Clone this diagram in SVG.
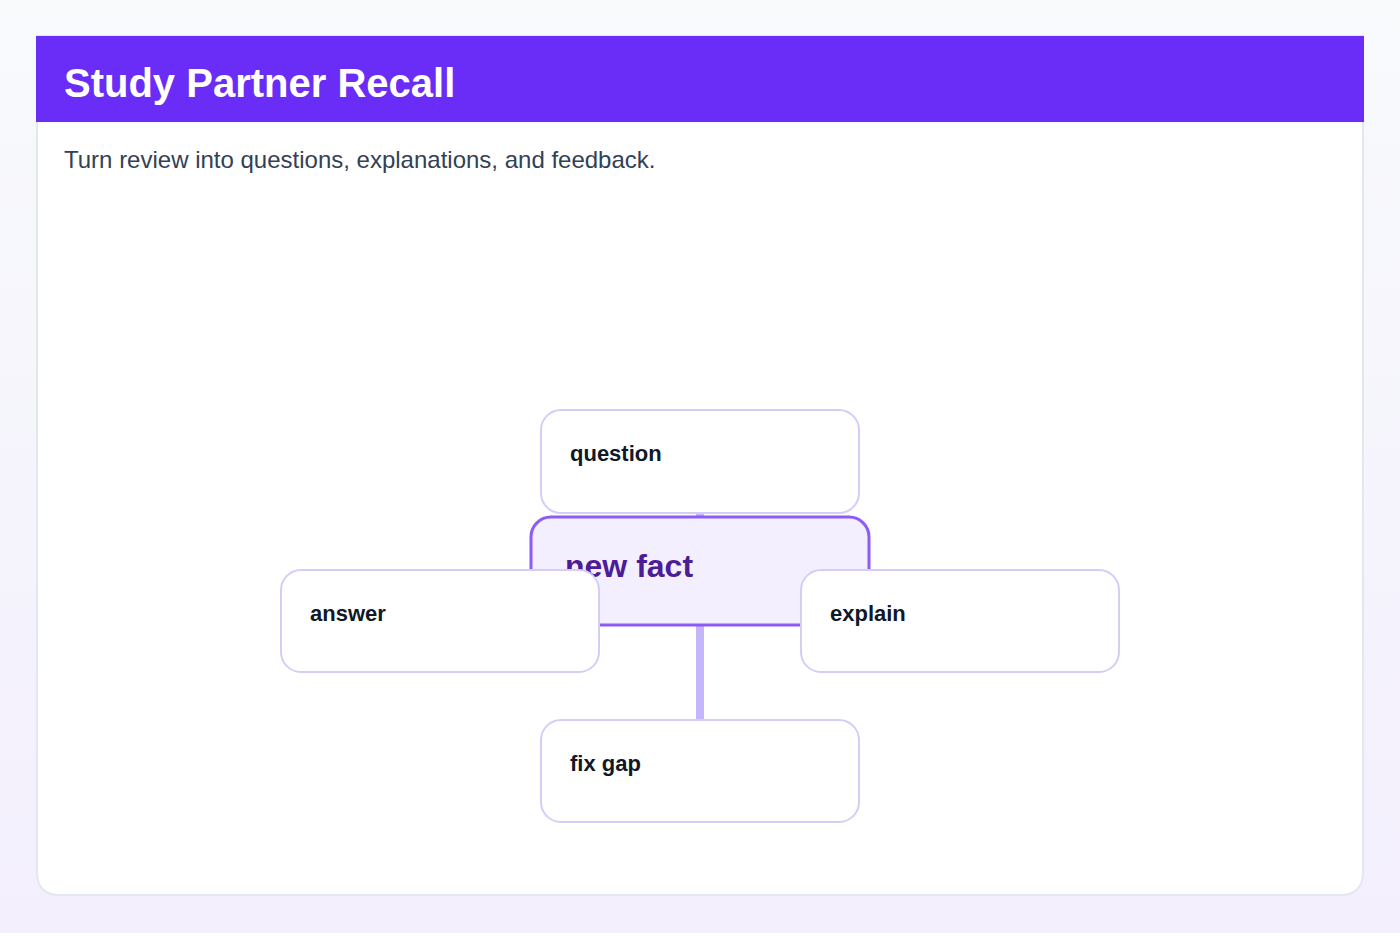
<svg xmlns="http://www.w3.org/2000/svg" width="1400" height="933" viewBox="0 0 1400 933">
<defs>
<linearGradient id="bg" x1="0" y1="0" x2="0" y2="1"><stop offset="0" stop-color="#f8fafc"/><stop offset="1" stop-color="#f3effd"/></linearGradient>
</defs>
<style>
.n{fill:#fff;stroke:#d6cdf6;stroke-width:2}
.t{font-family:"Liberation Sans",Arial,sans-serif;font-weight:bold;font-size:22px;fill:#111827}
</style>
<rect width="1400" height="933" fill="url(#bg)"/>
<path d="M37 36 H1363 V872 Q1363 895 1340 895 H60 Q37 895 37 872 Z" fill="#fff" stroke="#e2e8f0" stroke-width="2"/>
<rect x="36" y="36" width="1328" height="86" fill="#6a2cf7"/>
<text x="64" y="97" font-family="Liberation Sans,Arial,sans-serif" font-weight="bold" font-size="40" fill="#fff">Study Partner Recall</text>
<text x="64" y="168" font-family="Liberation Sans,Arial,sans-serif" font-size="24" fill="#334155">Turn review into questions, explanations, and feedback.</text>
<g id="connectors" stroke="#c4b5fd" stroke-width="8">
<line x1="700" y1="500" x2="700" y2="730"/>
<line x1="590" y1="621" x2="810" y2="621"/>
</g>
<g id="question"><rect class="n" x="541" y="410" width="318" height="103" rx="20"/><text class="t" x="570" y="461">question</text></g>
<g id="newfact"><rect x="531" y="517" width="338" height="108" rx="20" fill="#f4effe" stroke="#8b5cf6" stroke-width="3"/><text x="565" y="577" font-family="Liberation Sans,Arial,sans-serif" font-weight="bold" font-size="32" fill="#4c1d95">new fact</text></g>
<g id="answer"><rect class="n" x="281" y="570" width="318" height="102" rx="20"/><text class="t" x="310" y="621">answer</text></g>
<g id="explain"><rect class="n" x="801" y="570" width="318" height="102" rx="20"/><text class="t" x="830" y="621">explain</text></g>
<g id="fixgap"><rect class="n" x="541" y="720" width="318" height="102" rx="20"/><text class="t" x="570" y="771">fix gap</text></g>
</svg>
